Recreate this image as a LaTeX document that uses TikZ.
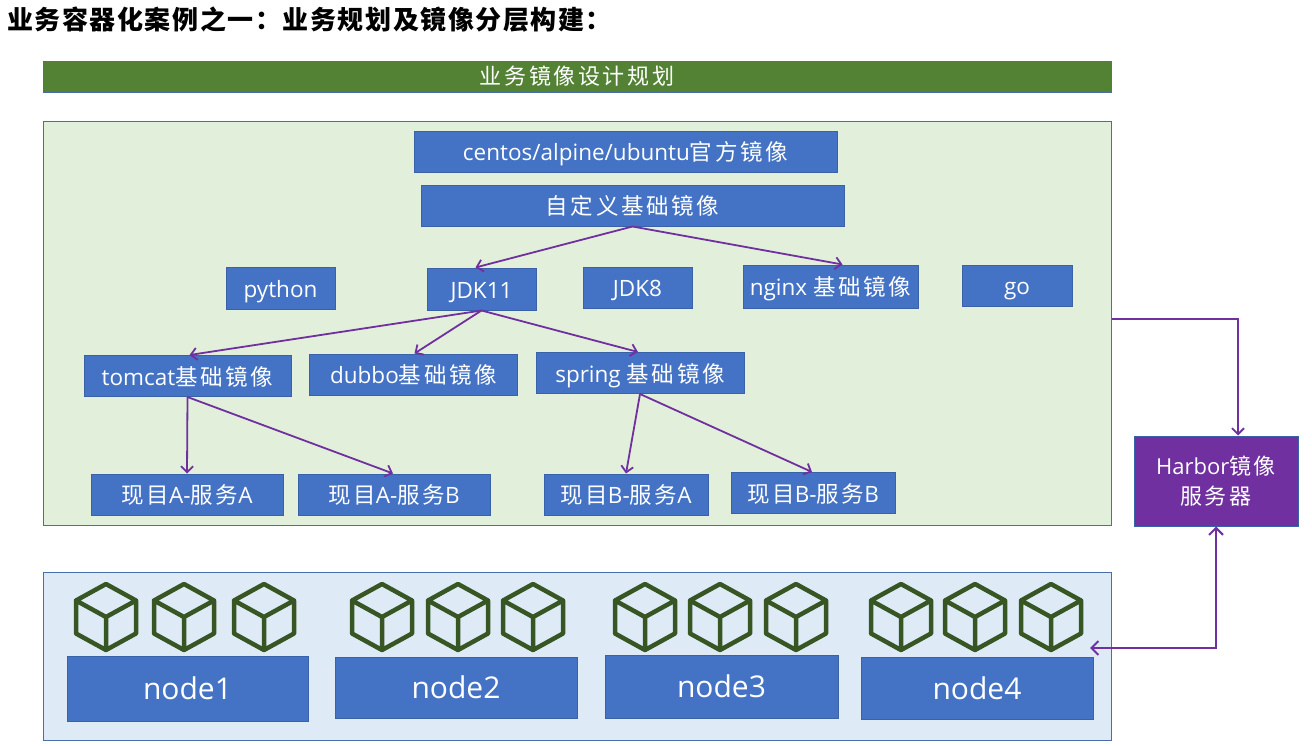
\documentclass[tikz,border=0pt]{standalone}
\usepackage{fontspec}
\setmainfont{Open Sans}
\newfontfamily\zhfont[LetterSpace=12]{Noto Sans CJK SC}
\newfontfamily\zhtitle[LetterSpace=6]{Noto Sans CJK SC}
\newcommand{\zh}[1]{{\zhfont #1}}
\usetikzlibrary{arrows.meta}
\definecolor{boxblue}{HTML}{4472C4}
\definecolor{boxedge}{HTML}{3A62A8}
\definecolor{arrpurple}{HTML}{7030A0}
\definecolor{bannergreen}{HTML}{548235}
\definecolor{areagreen}{HTML}{E2EFDA}
\definecolor{areablue}{HTML}{DEEBF7}
\definecolor{areaedge}{HTML}{4A6EA8}
\definecolor{cubegreen}{HTML}{375623}
\begin{document}
\begin{tikzpicture}[x=1pt,y=-1pt,
  imgbox/.style={draw=boxedge, fill=boxblue, line width=1pt, text=white,
    font=\fontsize{22.5}{26}\selectfont, inner sep=0pt,
    text height=20pt, text depth=2pt},
  nodebox/.style={imgbox, font=\fontsize{30}{34}\selectfont,
    text height=25pt, text depth=3pt,
    minimum width=238pt, minimum height=63pt},
  areabox/.style={draw=areaedge, line width=1pt, inner sep=0pt},
  arr/.style={draw=arrpurple, line width=1.8pt,
    -{Straight Barb[length=6pt,width=12pt,line width=1.8pt]}},
  darr/.style={draw=arrpurple, line width=2pt,
    {Straight Barb[length=7pt,width=14pt,line width=2pt]}-{Straight Barb[length=7pt,width=14pt,line width=2pt]}},
  cubeicon/.pic={
    \draw[cubegreen, line width=4.5pt, line join=round, line cap=round]
      (0,-33) -- (30,-16.5) -- (30,16.5) -- (0,33) -- (-30,16.5) -- (-30,-16.5) -- cycle
      (-30,-16.5) -- (0,0) -- (30,-16.5) (0,0) -- (0,33);
  }]
\useasboundingbox (0,0) rectangle (1312,745);
\fill[white] (0,0) rectangle (1312,745);

% title
\node[anchor=west, inner sep=0pt, font=\zhtitle\bfseries\fontsize{26}{29}\selectfont] (title) at (7,20)
  {业务容器化案例之一：业务规划及镜像分层构建：};

% banner
\node[draw=areaedge, fill=bannergreen, line width=1pt, text=white, inner sep=0pt,
  minimum width=1068pt, minimum height=31pt, font=\fontsize{22}{24}\selectfont] (banner) at (577,76.5)
  {\zh{业务镜像设计规划}};

% areas
\node[areabox, fill=areagreen, minimum width=1068pt, minimum height=404pt] (garea) at (577,323) {};
\node[areabox, fill=areablue, minimum width=1068pt, minimum height=168pt] (barea) at (577,656) {};

% image boxes
\node[imgbox, minimum width=423pt, minimum height=41pt] (centos) at (625.5,151.5) {centos/alpine/ubuntu\zh{官方镜像}};
\node[imgbox, minimum width=423pt, minimum height=41pt] (custom) at (632.5,205.5) {\zh{自定义基础镜像}};
\node[imgbox, minimum width=109pt, minimum height=42pt] (python) at (280.5,288) {python};
\node[imgbox, minimum width=109pt, minimum height=42pt] (jdk11) at (481.5,289) {JDK11};
\node[imgbox, minimum width=109pt, minimum height=41pt] (jdk8) at (637.5,287.5) {JDK8};
\node[imgbox, minimum width=175pt, minimum height=43pt] (nginx) at (830.5,286.5) {nginx \zh{基础镜像}};
\node[imgbox, minimum width=110pt, minimum height=41pt] (go) at (1017,285.5) {go};
\node[imgbox, minimum width=207pt, minimum height=41pt] (tomcat) at (187.5,376) {tomcat\zh{基础镜像}};
\node[imgbox, minimum width=208pt, minimum height=41pt] (dubbo) at (413.5,374.5) {dubbo\zh{基础镜像}};
\node[imgbox, minimum width=208pt, minimum height=41pt] (spring) at (640,373) {spring \zh{基础镜像}};
\node[imgbox, minimum width=192pt, minimum height=41pt] (paa) at (187,494.5) {\zh{现目}A-\zh{服务}A};
\node[imgbox, minimum width=192pt, minimum height=41pt] (pab) at (394,494.5) {\zh{现目}A-\zh{服务}B};
\node[imgbox, minimum width=164pt, minimum height=41pt] (pba) at (626,494.5) {\zh{现目}B-\zh{服务}A};
\node[imgbox, minimum width=164pt, minimum height=41pt] (pbb) at (813,493) {\zh{现目}B-\zh{服务}B};

% harbor
\node[draw=boxedge, fill=arrpurple, line width=1pt, text=white, inner sep=0pt, align=center,
  minimum width=164pt, minimum height=90pt, font=\fontsize{22}{30}\selectfont] (harbor) at (1216,481)
  {Harbor\zh{镜像}\\\zh{服务器}};

% cluster nodes
\node[nodebox, minimum width=241pt, minimum height=65pt] (n1) at (187.5,688.5) {node1};
\node[nodebox, minimum width=242pt, minimum height=61pt] (n2) at (456,687.5) {node2};
\node[nodebox, minimum width=233pt, minimum height=63pt] (n3) at (721.5,686.5) {node3};
\node[nodebox, minimum width=232pt, minimum height=62pt] (n4) at (977,688) {node4};

% cubes
\foreach \cx in {106,184,264, 382,458,533, 645,720,796, 901,975,1051}
  \pic at (\cx,617) {cubeicon};

% connectors
\draw[arr] (custom.south) -- ([xshift=-6pt]jdk11.north);
\draw[arr] (custom.south) -- ([xshift=12pt]nginx.north);
\draw[arr] (jdk11.south) -- ([xshift=2pt]tomcat.north);
\draw[arr] (jdk11.south) -- ([xshift=1pt]dubbo.north);
\draw[arr] (jdk11.south) -- ([xshift=-2pt]spring.north);
\draw[arr] (tomcat.south) -- (paa.north);
\draw[arr] (tomcat.south) -- ([xshift=-1pt]pab.north);
\draw[arr] (spring.south) -- ([xshift=0pt]pba.north);
\draw[arr] (spring.south) -- ([xshift=-1pt]pbb.north);

\draw[arr, line width=2pt] ([yshift=4pt]garea.east) -| ([xshift=22pt]harbor.north);
\coordinate (hin) at (1090,648);
\draw[darr] (harbor.south) |- (hin);
\end{tikzpicture}
\end{document}
